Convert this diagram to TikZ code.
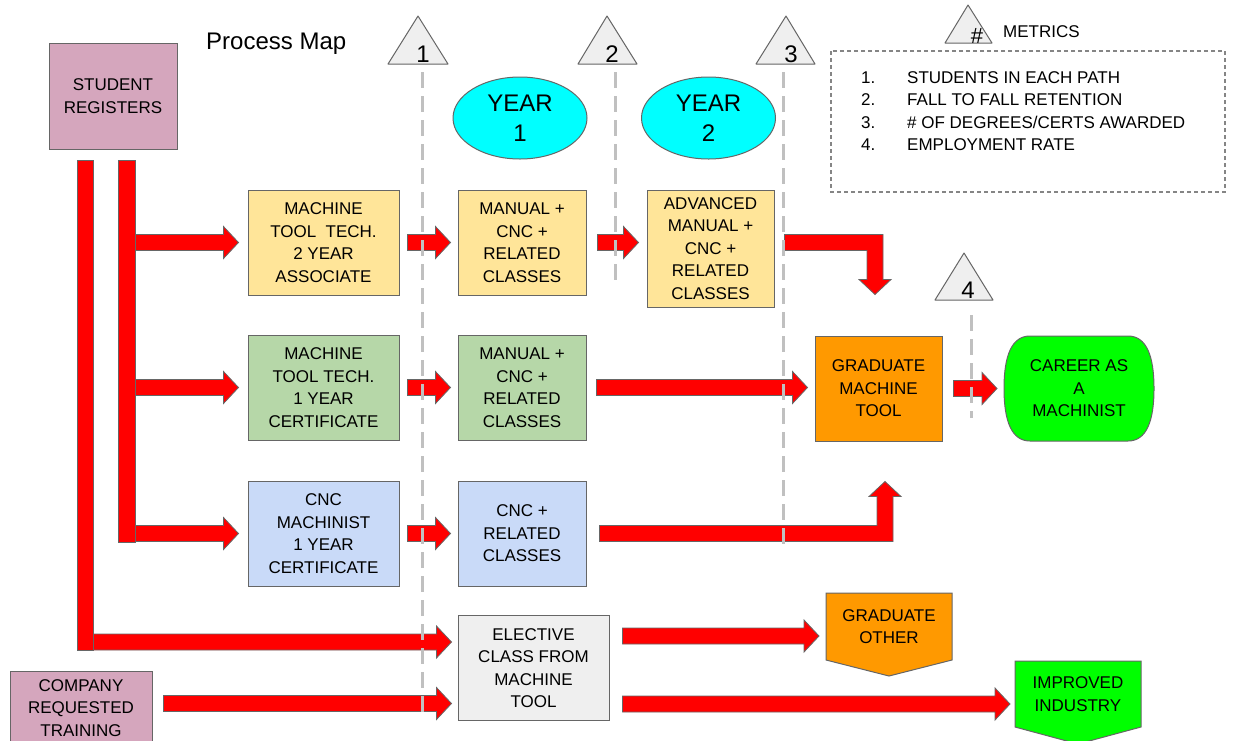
\documentclass[tikz,border=0pt]{standalone}
\usepackage{fontspec}
\setmainfont{Liberation Sans}
\usetikzlibrary{calc,shapes.geometric}
\definecolor{pinkbox}{HTML}{D5A6BD}
\definecolor{yelbox}{HTML}{FFE599}
\definecolor{grnbox}{HTML}{B6D7A8}
\definecolor{blubox}{HTML}{C9DAF8}
\definecolor{grybox}{HTML}{EFEFEF}
\definecolor{orgbox}{HTML}{FF9900}
\definecolor{limebox}{HTML}{00FF00}
\definecolor{cyanbox}{HTML}{00FFFF}
\definecolor{edgec}{HTML}{666666}
\definecolor{dashgray}{HTML}{C0C0C0}
\definecolor{arrowred}{HTML}{FF0000}
\newcommand\boxfont{\fontsize{17}{22.5}\selectfont}
\newcommand\bigfont{\fontsize{24}{30}\selectfont}
\tikzset{
  box/.style={draw=edgec, line width=1pt, inner sep=0pt, align=center, font=\boxfont},
  txt/.style={inner sep=0pt, align=center, font=\boxfont},
  barrow/.style={fill=arrowred, draw=edgec, line width=0.8pt},
  guide/.style={draw=dashgray, line width=3pt, dash pattern=on 16pt off 8pt},
  tri/.style={draw=edgec, fill=grybox, line width=1pt, line join=round},
  yearell/.style={ellipse, draw=edgec, fill=cyanbox, line width=1pt, minimum width=134pt, minimum height=82pt, inner sep=0pt, align=center, font=\bigfont},
}
% horizontal block arrow: #1 start, #2 tip (row height taken from tip)
\newcommand\harr[2]{%
  \path[barrow] let \p1=#1, \p2=#2 in
    (\x1,\y2+8pt) -- (\x2-15pt,\y2+8pt) -- (\x2-15pt,\y2+16pt) -- (\x2,\y2)
    -- (\x2-15pt,\y2-16pt) -- (\x2-15pt,\y2-8pt) -- (\x1,\y2-8pt) -- cycle;}
\begin{document}
\begin{tikzpicture}[x=1pt,y=-1pt]
\useasboundingbox (0,0) rectangle (1233,740);
\fill[white] (0,0) rectangle (1233,740);
\clip (0,0) rectangle (1233,740);

\node[anchor=base west, inner sep=0pt, font=\fontsize{24}{28}\selectfont] (title) at (206,49) {Process Map};

% ---- boxes
\node[box, fill=pinkbox, minimum width=128pt, minimum height=106pt] (reg) at (113,96) {STUDENT\\REGISTERS};
\node[box, fill=pinkbox, minimum width=142pt, minimum height=74pt] (comp) at (81,708) {COMPANY\\REQUESTED\\TRAINING};

\node[box, fill=yelbox, minimum width=151pt, minimum height=105pt] (mt2) at (323.5,242.5) {MACHINE\\TOOL~~TECH.\\2 YEAR\\ASSOCIATE};
\node[box, fill=yelbox, minimum width=128pt, minimum height=105pt] (man1) at (522,242.5) {MANUAL +\\CNC +\\RELATED\\CLASSES};
\node[box, fill=yelbox, minimum width=127pt, minimum height=117pt] (adv) at (710.5,248.5) {ADVANCED\\MANUAL +\\CNC +\\RELATED\\CLASSES};

\node[box, fill=grnbox, minimum width=151pt, minimum height=105pt] (mt1) at (323.5,387.5) {MACHINE\\TOOL TECH.\\1 YEAR\\CERTIFICATE};
\node[box, fill=grnbox, minimum width=128pt, minimum height=105pt] (man2) at (522,387.5) {MANUAL +\\CNC +\\RELATED\\CLASSES};
\node[box, fill=orgbox, minimum width=127pt, minimum height=105pt] (grad) at (878.5,388.5) {GRADUATE\\MACHINE\\TOOL};

\node[box, fill=blubox, minimum width=151pt, minimum height=105pt] (cncm) at (323.5,533.5) {CNC\\MACHINIST\\1 YEAR\\CERTIFICATE};
\node[box, fill=blubox, minimum width=128pt, minimum height=105pt] (cncr) at (522,533.5) {CNC +\\RELATED\\CLASSES};

\node[box, fill=grybox, minimum width=151pt, minimum height=105pt] (elec) at (533.5,668) {ELECTIVE\\CLASS FROM\\MACHINE\\TOOL};

\node[yearell] (y1) at (520,118) {YEAR\\1};
\node[yearell] (y2) at (708.5,118) {YEAR\\2};

% career shape
\draw[draw=edgec, fill=limebox, line width=1pt]
  (1030,336) -- (1128,336) .. controls (1146,336) and (1154,355) .. (1154,388.5)
  .. controls (1154,422) and (1146,441) .. (1128,441) -- (1030,441)
  .. controls (1012,441) and (1004,422) .. (1004,388.5)
  .. controls (1004,355) and (1012,336) .. (1030,336) -- cycle;
\node[txt] (career) at (1079,388.5) {CAREER AS\\A\\MACHINIST};
\coordinate (careerW) at (1004,388.5);

% off-page shapes
\draw[draw=edgec, fill=orgbox, line width=1pt] (826,593) -- (952,593) -- (952,660) -- (889,676) -- (826,660) -- cycle;
\node[txt] (gother) at (889,626.5) {GRADUATE\\OTHER};
\draw[draw=edgec, fill=limebox, line width=1pt] (1015,661) -- (1141,661) -- (1141,727) -- (1078,744) -- (1015,727) -- cycle;
\node[txt] (impr) at (1078,694) {IMPROVED\\INDUSTRY};

% ---- spines
\node[barrow, minimum width=16pt, minimum height=490pt, inner sep=0pt] (spineA) at (85,405) {};
\node[barrow, minimum width=17pt, minimum height=382pt, inner sep=0pt] (spineB) at (126.5,351) {};

% ---- block arrows
\harr{(spineB.east |- mt2)}{($(mt2.west)+(-9,0)$)}
\harr{(spineB.east |- mt1)}{($(mt1.west)+(-9,0)$)}
\harr{(spineB.east |- cncm)}{($(cncm.west)+(-9,0)$)}
\harr{($(mt2.east)+(8,0)$)}{($(man1.west)+(-7,0)$)}
\harr{($(man1.east)+(11,0)$)}{($(adv.west |- man1)+(-8,0)$)}
\harr{($(mt1.east)+(8,0)$)}{($(man2.west)+(-7,0)$)}
\harr{($(man2.east)+(10,0)$)}{($(grad.west |- man2)+(-7,0)$)}
\harr{($(grad.east)+(11,0)$)}{($(careerW)+(-7,0)$)}
\harr{($(cncm.east)+(8,0)$)}{($(cncr.west)+(-7,0)$)}
\coordinate (elA) at ($(elec.west)+(-6,-26)$);
\coordinate (elB) at ($(elec.west)+(-6,35.5)$);
\harr{(spineA.east |- elA)}{(elA)}
\harr{($(comp.east)+(11,0)$)}{(elB)}
\coordinate (goT) at (819,636);
\coordinate (imT) at (1010,704);
\harr{($(elec.east)+(13,0)$)}{(goT)}
\harr{($(elec.east)+(13,0)$)}{(imT)}

% bent arrow: advanced -> graduate (down)
\path[barrow] let \p1=($(adv.east |- man1)+(10,0)$), \p2=($(grad.north)+(-3.5,-41)$) in
  (\x1,\y1+8pt) -- (\x2+8pt,\y1+8pt) -- (\x2+8pt,\y2+15pt) -- (\x2+16pt,\y2+15pt) -- (\x2,\y2)
  -- (\x2-16pt,\y2+15pt) -- (\x2-8pt,\y2+15pt) -- (\x2-8pt,\y1-8pt) -- (\x1,\y1-8pt) -- cycle;
% bent arrow: cnc related -> graduate (up)
\path[barrow] let \p1=($(cncr.east)+(13,0)$), \p2=($(grad.south)+(6.5,40)$) in
  (\x1,\y1+8pt) -- (\x2-8pt,\y1+8pt) -- (\x2-8pt,\y2-15pt) -- (\x2-16pt,\y2-15pt) -- (\x2,\y2)
  -- (\x2+16pt,\y2-15pt) -- (\x2+8pt,\y2-15pt) -- (\x2+8pt,\y1-8pt) -- (\x1,\y1-8pt) -- cycle;

% ---- dashed metric guides
\draw[guide] (422,72) -- (422,718);
\draw[guide] (615,72) -- (615,285);
\draw[guide] (783,72) -- (783,550);
\draw[guide] (971,315) -- (971,418);

% ---- triangles
\draw[tri] (418,16) -- (448,64) -- (388,64) -- cycle;
\node[anchor=base, inner sep=0pt, font=\bigfont] (t1) at (423,62) {1};
\draw[tri] (607,16) -- (637,64) -- (578,64) -- cycle;
\node[anchor=base, inner sep=0pt, font=\bigfont] (t2) at (612,62) {2};
\draw[tri] (786,16) -- (815,64) -- (756,64) -- cycle;
\node[anchor=base, inner sep=0pt, font=\bigfont] (t3) at (791,62) {3};
\draw[tri] (964,253) -- (993,300) -- (935,300) -- cycle;
\node[anchor=base, inner sep=0pt, font=\bigfont] (t4) at (968,298) {4};

% ---- metrics legend
\draw[tri] (968,5) -- (992,43) -- (945,43) -- cycle;
\node[anchor=base, inner sep=0pt, font=\fontsize{22}{26}\selectfont] (thash) at (977,43) {\#};
\node[anchor=base west, inner sep=0pt, font=\boxfont] (mtitle) at (1003,37) {METRICS};
\draw[draw=edgec!80, line width=1.2pt, dash pattern=on 4pt off 3pt] (831,51) rectangle (1225,192);
\node[anchor=base west, inner sep=0pt, font=\boxfont] (n1) at (861,83) {1.};
\node[anchor=base west, inner sep=0pt, font=\boxfont] (l1) at (907,83) {STUDENTS IN EACH PATH};
\node[anchor=base west, inner sep=0pt, font=\boxfont] (n2) at (861,105.5) {2.};
\node[anchor=base west, inner sep=0pt, font=\boxfont] (l2) at (907,105.5) {FALL TO FALL RETENTION};
\node[anchor=base west, inner sep=0pt, font=\boxfont] (n3) at (861,128) {3.};
\node[anchor=base west, inner sep=0pt, font=\boxfont] (l3) at (907,128) {\# OF DEGREES/CERTS AWARDED};
\node[anchor=base west, inner sep=0pt, font=\boxfont] (n4) at (861,150.5) {4.};
\node[anchor=base west, inner sep=0pt, font=\boxfont] (l4) at (907,150.5) {EMPLOYMENT RATE};
\end{tikzpicture}
\end{document}
